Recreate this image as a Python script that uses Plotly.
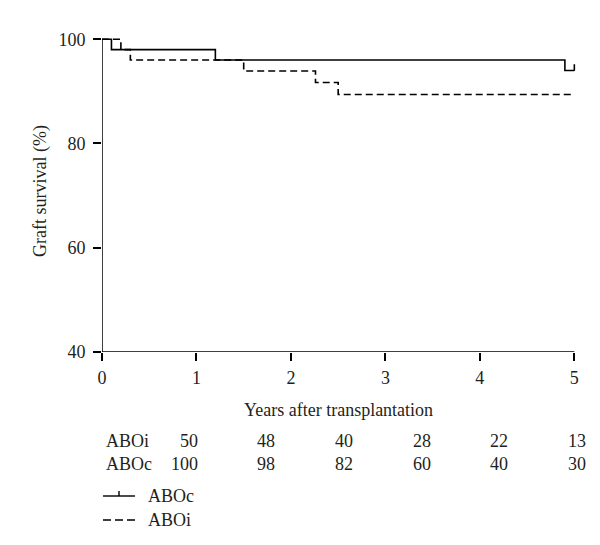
import plotly.graph_objects as go

# ---- data ----
years_abo_c = [0, 0.1, 1.2, 4.9, 5.0]
surv_abo_c = [100, 98, 96, 94, 94]
years_abo_i = [0, 0.2, 0.3, 1.5, 2.26, 2.5, 5.0]
surv_abo_i = [100, 98, 96, 93.9, 91.7, 89.4, 89.4]
censor_abo_c_x = [5.0]
censor_abo_c_y = [94]

x_ticks = [0, 1, 2, 3, 4, 5]
y_ticks = [40, 60, 80, 100]

risk_labels = ["ABOi", "ABOc"]
risk_abo_i = [50, 48, 40, 28, 22, 13]
risk_abo_c = [100, 98, 82, 60, 40, 30]
legend_labels = ["ABOc", "ABOi"]

# ---- layout geometry (pixels) ----
W, H = 600, 545
L, T = 94, 26
PW, PH = 478, 318
R = W - L - PW
B = H - T - PH
FONT = "Liberation Serif"
TXT = "#231f20"
FS = 18
DASH = "7px,4px"


def px_x(px):
    return (px - L) / PW


def px_y(py):
    return (T + PH - py) / PH


fig = go.Figure()
fig.add_trace(go.Scatter(x=years_abo_c, y=surv_abo_c, mode="lines",
                         line=dict(color="black", width=1.6, shape="hv"),
                         name="ABOc", showlegend=False))
fig.add_trace(go.Scatter(x=years_abo_i, y=surv_abo_i, mode="lines",
                         line=dict(color="black", width=1.6, shape="hv", dash=DASH),
                         name="ABOi", showlegend=False))
# censor tick (upward mark)
fig.add_trace(go.Scatter(x=censor_abo_c_x, y=censor_abo_c_y, mode="markers",
                         marker=dict(size=1, color="black"),
                         error_y=dict(type="data", symmetric=False, array=[1.2],
                                      arrayminus=[0], width=0, thickness=1.6, color="black"),
                         cliponaxis=False, showlegend=False))

shapes = [
    dict(type="line", xref="x", yref="y", x0=0, x1=5, y0=40, y1=40,
         line=dict(color="black", width=1.5)),
    dict(type="line", xref="x", yref="y", x0=0, x1=0, y0=40, y1=100,
         line=dict(color="black", width=1.5)),
]

annotations = []
# axis titles
annotations.append(dict(text="Years after transplantation", xref="paper", yref="paper",
                        x=px_x(330), y=px_y(402), xanchor="center", yanchor="middle",
                        showarrow=False, font=dict(family=FONT, size=FS, color=TXT)))
annotations.append(dict(text="Graft survival (%)", xref="paper", yref="paper",
                        x=px_x(32), y=px_y(183), xanchor="center", yanchor="middle",
                        textangle=-90, showarrow=False,
                        font=dict(family=FONT, size=FS, color=TXT)))

# risk table
col_right_px = [192, 269, 347, 425, 502, 580]
row_py = [433, 456]
for lab, vals, py in zip(risk_labels, [risk_abo_i, risk_abo_c], row_py):
    annotations.append(dict(text=lab, xref="paper", yref="paper", x=px_x(96), y=px_y(py),
                            xanchor="left", yanchor="middle", showarrow=False,
                            font=dict(family=FONT, size=FS, color=TXT)))
    for v, cx in zip(vals, col_right_px):
        annotations.append(dict(text=str(v), xref="paper", yref="paper", x=px_x(cx), y=px_y(py),
                                xanchor="right", yanchor="middle", showarrow=False,
                                font=dict(family=FONT, size=FS, color=TXT)))

# manual legend
leg_py = [488, 512]
for lab, py, dash in zip(legend_labels, leg_py, ["solid", "8px,4px"]):
    shapes.append(dict(type="line", xref="paper", yref="paper",
                       x0=px_x(95), x1=px_x(127), y0=px_y(py), y1=px_y(py),
                       line=dict(color="black", width=1.4, dash=dash)))
    annotations.append(dict(text=lab, xref="paper", yref="paper", x=px_x(138), y=px_y(py),
                            xanchor="left", yanchor="middle", showarrow=False,
                            font=dict(family=FONT, size=FS, color=TXT)))
shapes.append(dict(type="line", xref="paper", yref="paper",
                   x0=px_x(111), x1=px_x(111), y0=px_y(leg_py[0]), y1=px_y(leg_py[0] - 5),
                   line=dict(color="black", width=1.4)))

fig.update_layout(
    width=W, height=H,
    margin=dict(l=L, r=R, t=T, b=B, pad=0),
    plot_bgcolor="white", paper_bgcolor="white",
    font=dict(family=FONT, size=FS, color=TXT),
    shapes=shapes, annotations=annotations,
    showlegend=False,
    xaxis=dict(range=[0, 5.06], tickvals=x_ticks, ticks="outside", ticklen=8,
               tickwidth=1.5, tickcolor="black", showgrid=False, zeroline=False,
               showline=False, ticklabelstandoff=1,
               tickfont=dict(family=FONT, size=FS, color=TXT)),
    yaxis=dict(range=[40, 101], tickvals=y_ticks, ticks="outside", ticklen=8,
               tickwidth=1.5, tickcolor="black", showgrid=False, zeroline=False,
               showline=False, ticklabelstandoff=4,
               tickfont=dict(family=FONT, size=FS, color=TXT)),
)

fig.write_html("out.html")
